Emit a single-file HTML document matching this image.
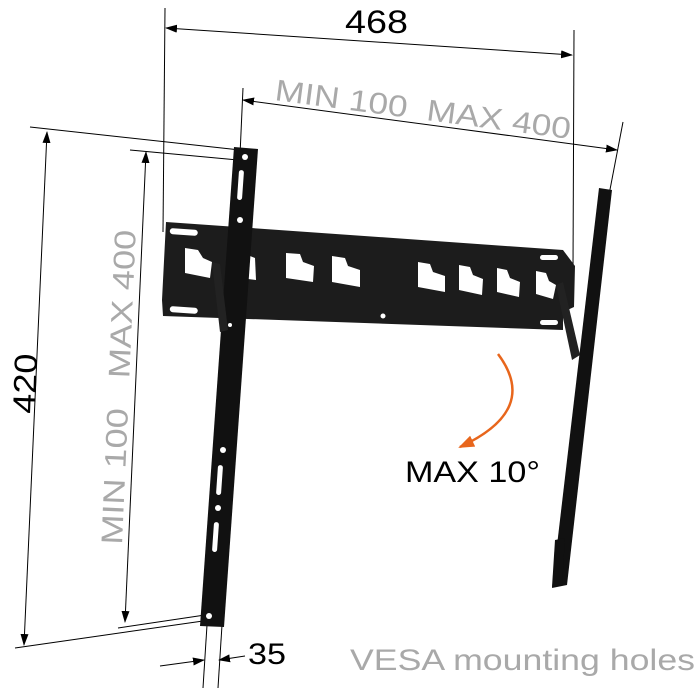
<!DOCTYPE html>
<html><head><style>
html,body{margin:0;padding:0;background:#fff;}
svg{display:block;}
text{font-family:"Liberation Sans",sans-serif;}
</style></head><body>
<svg width="700" height="688" viewBox="0 0 700 688" xmlns="http://www.w3.org/2000/svg">
<defs>
<marker id="ar" markerWidth="12" markerHeight="8" refX="11" refY="4" orient="auto-start-reverse" markerUnits="userSpaceOnUse"><path d="M0,0 L12,4 L0,8 Z" fill="#000"/></marker>
<marker id="ao" markerWidth="16" markerHeight="12" refX="14" refY="6" orient="auto" markerUnits="userSpaceOnUse"><path d="M0,0 L16,6 L0,12 Z" fill="#e8661c"/></marker>
</defs>
<g stroke="#000" stroke-width="1" fill="none">
<line x1="165" y1="8" x2="163" y2="232"/>
<line x1="574" y1="30" x2="573" y2="270"/>
<line x1="166" y1="28" x2="572" y2="55" marker-end="url(#ar)" marker-start="url(#ar)"/>
<line x1="243" y1="88" x2="240" y2="155"/>
<line x1="623" y1="122" x2="608" y2="200"/>
<line x1="243" y1="100" x2="617" y2="150" marker-end="url(#ar)" marker-start="url(#ar)"/>
<line x1="30" y1="127" x2="240" y2="150"/>
<line x1="15" y1="648" x2="210" y2="620"/>
<line x1="47" y1="132" x2="24" y2="645" marker-end="url(#ar)" marker-start="url(#ar)"/>
<line x1="130" y1="150" x2="238" y2="160"/>
<line x1="118" y1="628" x2="205" y2="615"/>
<line x1="146" y1="152" x2="125" y2="622" marker-end="url(#ar)" marker-start="url(#ar)"/>
<line x1="207" y1="625" x2="203" y2="688"/>
<line x1="222" y1="625" x2="218" y2="688"/>
<line x1="160" y1="666" x2="204" y2="660" marker-end="url(#ar)"/>
<line x1="245" y1="656" x2="219" y2="660" marker-end="url(#ar)"/>
</g>
<path d="M166,222 L563,250 L575,266 L574,307 L563,312 L563,330 L163,316 L162,300 Z" fill="#1c1c1c"/>
<g fill="#fff">
<rect x="170" y="228" width="28" height="6" rx="3" transform="rotate(4 170 228)"/>
<rect x="170" y="306" width="28" height="6" rx="3" transform="rotate(4 170 306)"/>
<rect x="540" y="255" width="18" height="5" rx="2.5"/>
<rect x="540" y="320" width="18" height="5" rx="2.5"/>
<circle cx="383" cy="316" r="2.5"/>
<path d="M185,248 L198,250 L203,258 L212,262 L210,278 L185,273 Z"/>
<path d="M250,256 L255,258 L256,280 L248,279 Z"/>
<path d="M286,253 L300,254 L303,262 L314,266 L313,282 L286,278 Z"/>
<path d="M332,256 L345,258 L348,266 L360,270 L360,287 L332,282 Z"/>
<path d="M418,262 L430,264 L433,272 L445,276 L445,292 L418,287 Z"/>
<path d="M459,265 L470,267 L473,275 L483,279 L482,295 L459,290 Z"/>
<path d="M497,268 L507,270 L510,278 L520,282 L519,297 L497,292 Z"/>
<path d="M536,271 L546,273 L549,281 L556,285 L553,299 L536,294 Z"/>
</g>
<path d="M234,147 L258,149 L224,627 L200,626 Z" fill="#111"/>
<g fill="#fff">
<circle cx="245" cy="157" r="3"/>
<rect x="238" y="170" width="5" height="30" rx="2.5" transform="rotate(4 240 185)"/>
<circle cx="240" cy="220" r="3"/>
<circle cx="230" cy="325" r="2"/>
<circle cx="223" cy="450" r="3"/>
<rect x="217" y="465" width="5" height="30" rx="2.5" transform="rotate(4 219 480)"/>
<circle cx="218" cy="508" r="3"/>
<rect x="213" y="522" width="5" height="30" rx="2.5" transform="rotate(4 215 537)"/>
<circle cx="209" cy="616" r="3"/>
</g>
<path d="M212,262 L220,264 L228,330 L220,332 Z" fill="#222"/>
<path d="M556,285 L563,282 L580,355 L572,360 Z" fill="#222"/>
<path d="M599,188 L612,190 L567,585 L552,588 Z" fill="#111"/>
<path d="M555,540 L565,538 L562,585 L552,587 Z" fill="#111"/>
<path d="M498,354 Q540,410 460,447" stroke="#e8661c" stroke-width="2.5" fill="none" marker-end="url(#ao)"/>
<text x="345" y="33" font-size="32" textLength="63" lengthAdjust="spacingAndGlyphs" fill="#000">468</text>
<text x="274" y="100" font-size="30" textLength="298" lengthAdjust="spacingAndGlyphs" fill="#a9a9a9" transform="rotate(7.5 274 100)" xml:space="preserve">MIN 100  MAX 400</text>
<text x="35" y="414" font-size="32" textLength="60" lengthAdjust="spacingAndGlyphs" fill="#000" transform="rotate(-88 35 414)">420</text>
<text x="122" y="545" font-size="30" textLength="315" lengthAdjust="spacingAndGlyphs" fill="#a9a9a9" transform="rotate(-87.5 122 545)" xml:space="preserve">MIN 100   MAX 400</text>
<text x="405" y="482" font-size="30" textLength="135" lengthAdjust="spacingAndGlyphs" fill="#000">MAX 10°</text>
<text x="248" y="664" font-size="30" textLength="38" lengthAdjust="spacingAndGlyphs" fill="#000">35</text>
<text x="350" y="670" font-size="30" textLength="345" lengthAdjust="spacingAndGlyphs" fill="#a9a9a9">VESA mounting holes</text>
</svg>
</body></html>
